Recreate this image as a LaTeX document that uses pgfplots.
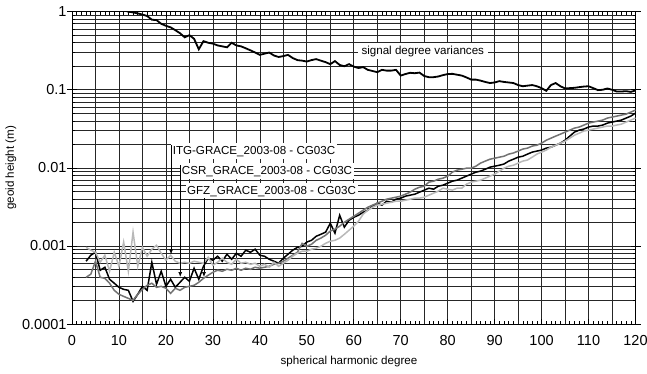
\documentclass[border=0pt]{standalone}
\usepackage{fontspec}
\setmainfont{Liberation Sans}
\usepackage{pgfplots}
\pgfplotsset{compat=1.18}
\usetikzlibrary{arrows.meta}
\definecolor{dg}{gray}{0.45}
\definecolor{lg}{gray}{0.72}
\begin{document}
\begin{tikzpicture}
\begin{axis}[
 scale only axis, width=563.5pt, height=312.3pt,
 xmin=0, xmax=120, ymode=log, ymin=1e-4, ymax=1,
 clip mode=individual,
 xtick={0,10,20,30,40,50,60,70,80,90,100,110,120},
 xticklabels={0,10,20,30,40,50,60,70,80,90,100,110,120},
 minor x tick num=9,
 extra x ticks={5,15,25,35,45,55,65,75,85,95,105,115},
 extra x tick labels={},
 extra x tick style={grid=major, major tick length=0pt},
 ytick={0.0001,0.001,0.01,0.1,1},
 yticklabels={0.0001,0.001,0.01,0.1,1},
 xmajorgrids, ymajorgrids, yminorgrids,
 major grid style={black!85, line width=0.65pt},
 minor grid style={black!85, line width=0.65pt},
 axis line style={black, line width=0.7pt},
 tick align=inside, major tick length=5pt, minor tick length=3pt,
 tick style={black, line width=0.6pt},
 /pgf/number format/assume math mode=true,
 ticklabel style={font=\fontsize{14.5}{16}\selectfont},
 xticklabel style={yshift=-8pt},
 yticklabel style={xshift=-2pt},
 label style={font=\fontsize{11.6}{13}\selectfont},
 xlabel={spherical harmonic degree},
 xlabel style={at={(axis description cs:0.4916,-0.1185)}, anchor=center},
 ylabel={geoid height (m)},
 ylabel style={at={(axis description cs:-0.1083,0.5)}, anchor=center},
]
% signal degree variances
\addplot[black, line width=1.8pt] table {
11 1.05
12 1.0
13 0.98
14 0.95
15 0.92
16 0.88
17 0.79
18 0.78
19 0.70
20 0.66
21 0.63
22 0.58
23 0.53
24 0.47
25 0.50
26 0.45
27 0.33
28 0.42
29 0.40
30 0.39
31 0.37
32 0.36
33 0.35
34 0.40
35 0.37
36 0.36
37 0.34
38 0.32
39 0.30
40 0.28
41 0.29
42 0.30
43 0.275
44 0.263
45 0.27
46 0.28
47 0.255
48 0.24
49 0.236
50 0.23
51 0.24
52 0.247
53 0.236
54 0.226
55 0.213
56 0.233
57 0.208
58 0.20
59 0.213
60 0.198
61 0.19
62 0.195
63 0.18
64 0.174
65 0.168
66 0.18
67 0.176
68 0.176
69 0.18
70 0.152
71 0.159
72 0.165
73 0.163
74 0.166
75 0.15
76 0.145
77 0.145
78 0.148
79 0.154
80 0.159
81 0.16
82 0.156
83 0.152
84 0.144
85 0.135
86 0.135
87 0.131
88 0.126
89 0.122
90 0.124
91 0.129
92 0.126
93 0.124
94 0.122
95 0.115
96 0.111
97 0.113
98 0.115
99 0.111
100 0.105
101 0.097
102 0.115
103 0.122
104 0.111
105 0.104
106 0.105
107 0.106
108 0.108
109 0.11
110 0.111
111 0.105
112 0.099
113 0.1
114 0.104
115 0.1
116 0.095
117 0.095
118 0.096
119 0.094
120 0.098
};
% CSR (black)
\addplot[black, line width=1.5pt] table {
3 0.000637
4 0.000760
5 0.00083
6 0.000488
7 0.000533
8 0.000374
9 0.000333
10 0.000295
11 0.000278
12 0.00027
13 0.000195
14 0.00024
15 0.000304
16 0.00027
17 0.000618
18 0.000323
19 0.000474
20 0.000304
21 0.000374
22 0.000295
23 0.000342
24 0.000397
25 0.000353
26 0.000518
27 0.000374
28 0.000549
29 0.000696
30 0.000656
31 0.000738
32 0.000637
33 0.000783
34 0.000675
35 0.000806
36 0.000738
37 0.000881
38 0.00083
39 0.000908
40 0.00076
41 0.000738
42 0.000675
43 0.000637
44 0.0006
45 0.000696
46 0.000783
47 0.000881
48 0.00096
49 0.00099
50 0.00112
51 0.00118
52 0.00133
53 0.00141
54 0.0015
55 0.00195
56 0.00146
57 0.00247
58 0.00174
59 0.00213
60 0.00233
61 0.00247
62 0.0027
63 0.00287
64 0.00323
65 0.00353
66 0.00333
67 0.00374
68 0.00363
69 0.00397
70 0.00409
71 0.00434
72 0.00447
73 0.0046
74 0.00488
75 0.00518
76 0.00549
77 0.00533
78 0.00582
79 0.006
80 0.00637
81 0.00675
82 0.00696
83 0.00738
84 0.00783
85 0.0083
86 0.00881
87 0.00908
88 0.0096
89 0.0102
90 0.0105
91 0.0108
92 0.0112
93 0.0122
94 0.0129
95 0.0137
96 0.0141
97 0.015
98 0.0159
99 0.0164
100 0.0169
101 0.0179
102 0.0184
103 0.0195
104 0.0207
105 0.0226
106 0.0255
107 0.0287
108 0.0304
109 0.0314
110 0.0333
111 0.0343
112 0.0343
113 0.0353
114 0.0374
115 0.0386
116 0.0397
117 0.0409
118 0.0434
119 0.046
120 0.0503
};
% GFZ (dark gray)
\addplot[dg, line width=1.5pt] table {
3 0.000397
4 0.000434
5 0.000637
6 0.000397
7 0.000385
8 0.000333
9 0.00027
10 0.00024
11 0.000226
12 0.000213
13 0.000201
14 0.00024
15 0.000278
16 0.000313
17 0.000333
18 0.000295
19 0.000304
20 0.000287
21 0.000247
22 0.000287
23 0.00027
24 0.000295
25 0.000304
26 0.000313
27 0.000342
28 0.000385
29 0.000421
30 0.00046
31 0.000488
32 0.000474
33 0.000503
34 0.000488
35 0.000518
36 0.000488
37 0.000518
38 0.000503
39 0.000533
40 0.000518
41 0.000533
42 0.000549
43 0.000582
44 0.0006
45 0.000637
46 0.000696
47 0.00076
48 0.00083
49 0.00108
50 0.00099
51 0.00105
52 0.00118
53 0.00126
54 0.00137
55 0.00155
56 0.00164
57 0.00179
58 0.00201
59 0.0022
60 0.0024
61 0.00262
62 0.00287
63 0.00313
64 0.00333
65 0.00353
66 0.00374
67 0.00397
68 0.00409
69 0.00421
70 0.00434
71 0.0046
72 0.00488
73 0.00533
74 0.00565
75 0.00582
76 0.00656
77 0.00675
78 0.00716
79 0.00738
80 0.00783
81 0.00881
82 0.00935
83 0.0096
84 0.0099
85 0.0099
86 0.0105
87 0.0115
88 0.0122
89 0.0129
90 0.0133
91 0.0137
92 0.0141
93 0.015
94 0.0155
95 0.0164
96 0.0174
97 0.0179
98 0.019
99 0.0195
100 0.0207
101 0.0226
102 0.024
103 0.0255
104 0.027
105 0.0287
106 0.0304
107 0.0323
108 0.0333
109 0.0353
110 0.0374
111 0.0386
112 0.0397
113 0.0409
114 0.0434
115 0.0447
116 0.046
117 0.0474
118 0.0488
119 0.0518
120 0.0549
};
% ITG (light gray)
\addplot[lg, line width=1.5pt] table {
3 0.00096
4 0.000881
5 0.00083
6 0.000618
7 0.00076
8 0.000474
9 0.00083
10 0.000549
11 0.00112
12 0.000474
13 0.0015
14 0.000549
15 0.00096
16 0.000738
17 0.000908
18 0.00102
19 0.000806
20 0.000656
21 0.00076
22 0.000637
23 0.0006
24 0.000618
25 0.0006
26 0.000637
27 0.000618
28 0.0006
29 0.000716
30 0.000565
31 0.000618
32 0.000696
33 0.000618
34 0.000582
35 0.000675
36 0.0006
37 0.000618
38 0.000582
39 0.0006
40 0.000549
41 0.000582
42 0.000533
43 0.000618
44 0.000549
45 0.0006
46 0.000656
47 0.000738
48 0.000806
49 0.000855
50 0.000855
51 0.000908
52 0.000935
53 0.00099
54 0.00108
55 0.00115
56 0.00118
57 0.00126
58 0.00141
59 0.00159
60 0.00179
61 0.00207
62 0.00255
63 0.00287
64 0.00313
65 0.00333
66 0.00342
67 0.00353
68 0.00363
69 0.00374
70 0.00374
71 0.00385
72 0.00397
73 0.00409
74 0.00409
75 0.00421
76 0.00447
77 0.00474
78 0.00503
79 0.00549
80 0.00533
81 0.00518
82 0.00549
83 0.00549
84 0.00618
85 0.00656
86 0.00675
87 0.00696
88 0.00738
89 0.00783
90 0.0083
91 0.00908
92 0.0099
93 0.0105
94 0.0108
95 0.0115
96 0.0122
97 0.0126
98 0.0137
99 0.015
100 0.0159
101 0.0169
102 0.0184
103 0.0195
104 0.0207
105 0.022
106 0.024
107 0.0262
108 0.0278
109 0.0296
110 0.0304
111 0.0314
112 0.0323
113 0.0333
114 0.0343
115 0.0343
116 0.0353
117 0.0363
118 0.0386
119 0.0409
120 0.0434
};
% annotation boxes
\node[fill=white, inner xsep=4pt, inner ysep=3pt, anchor=center, font=\fontsize{11.6}{13}\selectfont] at (axis cs:74.7,0.313) {signal degree variances};
\node[fill=white, inner xsep=1.5pt, inner ysep=2.5pt, anchor=west, font=\fontsize{11.6}{13}\selectfont] at (axis cs:21.1,0.01637) {ITG-GRACE\_2003-08 - CG03C};
\node[fill=white, inner xsep=1.5pt, inner ysep=2.5pt, anchor=west, font=\fontsize{11.6}{13}\selectfont] at (axis cs:23.05,0.00907) {CSR\_GRACE\_2003-08 - CG03C};
\node[fill=white, inner xsep=1.5pt, inner ysep=2.5pt, anchor=west, font=\fontsize{11.6}{13}\selectfont] at (axis cs:24.15,0.00503) {GFZ\_GRACE\_2003-08 - CG03C};
% leader lines
\draw[black, line width=0.7pt, -{Latex[length=5pt,width=4pt]}] (axis cs:21.1,0.0195) -- (axis cs:21.1,0.00078);
\draw[black, line width=0.7pt, -{Latex[length=5pt,width=4pt]}] (axis cs:23.05,0.0108) -- (axis cs:23.05,0.00040);
\draw[black, line width=0.7pt, -{Latex[length=5pt,width=4pt]}] (axis cs:28.1,0.0041) -- (axis cs:28.1,0.00040);
% outer y tick stubs
\pgfplotsinvokeforeach{0.0001,0.001,0.01,0.1,1}{
 \draw[black, line width=0.6pt] (axis cs:0,#1) -- ++(-5pt,0pt);
 \draw[black, line width=0.6pt] (axis cs:120,#1) -- ++(5pt,0pt);
}
\end{axis}
\pgfresetboundingbox
\path[use as bounding box] (-72pt,-49pt) rectangle (575pt,324pt);
\end{tikzpicture}
\end{document}
